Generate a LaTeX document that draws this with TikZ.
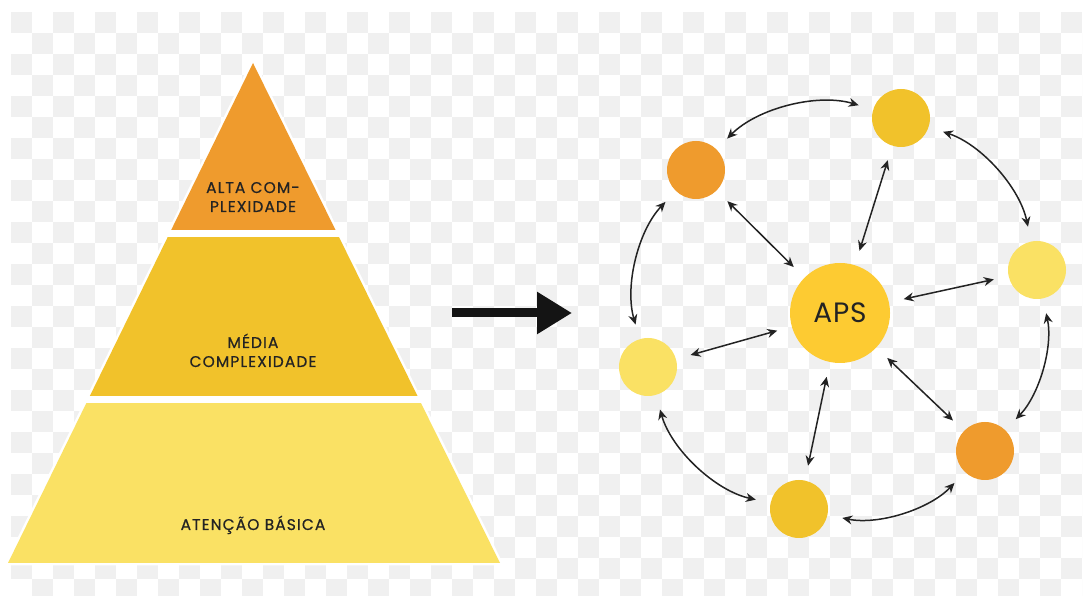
\documentclass[tikz,border=0pt]{standalone}
\usepackage{fontspec}
\setmainfont{Poppins}
\newfontfamily\pyrfont[LetterSpace=7,FakeBold=0.6]{Poppins}
\newfontfamily\apsfont[LetterSpace=3]{Poppins}
\usetikzlibrary{arrows.meta}
\definecolor{corange}{RGB}{239,155,45}
\definecolor{cyellow}{RGB}{241,194,43}
\definecolor{clight}{RGB}{250,225,100}
\definecolor{caps}{RGB}{253,203,50}
\definecolor{ctext}{RGB}{35,35,35}
\definecolor{clink}{RGB}{35,35,35}
\definecolor{bgcheck}{RGB}{240,240,240}
\tikzset{
  sat/.style={circle, minimum size=58pt, inner sep=0pt, draw=none},
  hub/.style={circle, minimum size=100pt, inner sep=0pt, draw=none, fill=caps,
    font=\apsfont\fontsize{28}{30}\selectfont, text=ctext},
  pyrtext/.style={font=\pyrfont\fontsize{15.5}{18.5}\selectfont, text=ctext, align=center, inner sep=0pt},
  link/.style={draw=clink, line width=1.5pt,
    {Stealth[length=10pt,width=9pt]}-{Stealth[length=10pt,width=9pt]},
    shorten >=15pt, shorten <=15pt},
  ring/.style={link, looseness=0.92},
  bigarrow/.style={draw=black!92, line width=9pt, -{Triangle[length=35pt,width=40pt]}}
}
\begin{document}
\begin{tikzpicture}[x=1pt,y=1pt]
\useasboundingbox (0,0) rectangle (1083,596);
\fill[white] (0,0) rectangle (1083,596);
% checkerboard background
\begin{scope}
\clip (8,0) rectangle (1082,584);
\foreach \k in {0,...,27}{
  \foreach \c in {-1,...,50}{
    \ifodd\numexpr\c+\k\relax
      \fill[bgcheck] (32+21*\c,563-21*\k) rectangle ++(21,21);
    \fi
  }
}
\end{scope}
% pyramid
\coordinate (apex) at (253,533);
\coordinate (pbl) at (8,33);
\coordinate (pbr) at (500,33);
\filldraw[white, line width=5pt, line join=miter] (apex) -- (pbl) -- (pbr) -- cycle;
\begin{scope}
\clip (apex) -- (pbl) -- (pbr) -- cycle;
\fill[clight] (0,0) rectangle (600,193);
\fill[cyellow] (0,200) rectangle (600,359);
\fill[corange] (0,366) rectangle (600,600);
\end{scope}
\node[pyrtext, anchor=base] (alta1) at (253,403) {ALTA COM-};
\node[pyrtext, anchor=base] (alta2) at (253,384) {PLEXIDADE};
\node[pyrtext, anchor=base] (media1) at (253,248) {MÉDIA};
\node[pyrtext, anchor=base] (media2) at (253,229) {COMPLEXIDADE};
\node[pyrtext, anchor=base] (basica) at (253,66) {ATENÇÃO BÁSICA};
% big arrow
\coordinate (arrs) at (452,283);
\coordinate (arre) at (572,283);
\draw[bigarrow] (arrs) -- (arre);
% network
\node[hub] (aps) at (840,283) {APS};
\node[sat, fill=corange] (tl) at (696,426) {};
\node[sat, fill=cyellow] (top) at (901,478) {};
\node[sat, fill=clight] (right) at (1037,326) {};
\node[sat, fill=corange] (br) at (985,145) {};
\node[sat, fill=cyellow] (bottom) at (799,87) {};
\node[sat, fill=clight] (left) at (648,229) {};
% spokes
\draw[link] (aps) -- (tl);
\draw[link] (aps) -- (top);
\draw[link] (aps) -- (right);
\draw[link] (aps) -- (br);
\draw[link] (aps) -- (bottom);
\draw[link] (aps) -- (left);
% ring
\draw[ring] (tl) to[bend left=31] (top);
\draw[ring] (top) to[bend left=30] (right);
\draw[ring] (right) to[bend left=28] (br);
\draw[ring] (br) to[bend left=29] (bottom);
\draw[ring] (bottom) to[bend left=31] (left);
\draw[ring] (left) to[bend left=30] (tl);
\end{tikzpicture}
\end{document}
